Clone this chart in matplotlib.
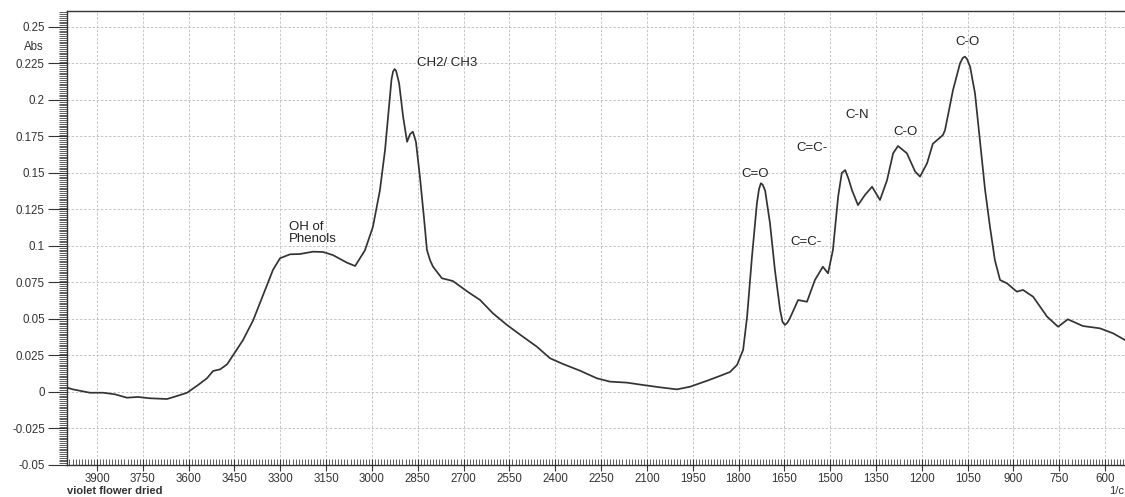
# -*- coding: utf-8 -*-
"""
FTIR spectrum of dried violet flower (absorbance vs wavenumber)
"""
import matplotlib
matplotlib.use('Agg')
import matplotlib.pyplot as plt
from matplotlib.ticker import MultipleLocator, FixedLocator

plt.rcParams['font.family'] = ['Liberation Sans', 'DejaVu Sans']

# ============================================================
# data
# ============================================================
WAVENUMBER = [
    3998, 3979, 3923, 3880, 3841, 3802, 3766, 3727, 3671, 3645,
    3605, 3569, 3540, 3520, 3497, 3474, 3455, 3422, 3389, 3357,
    3324, 3301, 3268, 3236, 3193, 3160, 3128, 3082, 3055, 3023,
    2997, 2974, 2957, 2941, 2936, 2931, 2926, 2921, 2911, 2898,
    2885, 2875, 2866, 2856, 2843, 2830, 2820, 2810, 2800, 2771,
    2735, 2689, 2646, 2604, 2558, 2506, 2460, 2417, 2375, 2319,
    2264, 2221, 2165, 2113, 2057, 2002, 1959, 1903, 1861, 1828,
    1805, 1785, 1772, 1756, 1740, 1733, 1727, 1721, 1713, 1697,
    1681, 1664, 1656, 1648, 1640, 1632, 1605, 1576, 1550, 1524,
    1507, 1491, 1474, 1462, 1451, 1440, 1429, 1409, 1386, 1363,
    1337, 1314, 1294, 1278, 1249, 1222, 1206, 1183, 1164, 1131,
    1124, 1098, 1075, 1066, 1059, 1052, 1042, 1026, 1010, 993,
    977, 961, 944, 921, 889, 869, 836, 790, 754, 722,
    673, 617, 574, 535,
]
ABSORBANCE = [
    0.0030, 0.0018, -0.0005, -0.0005, -0.0016, -0.0039, -0.0034, -0.0043, -0.0048, -0.0032,
    -0.0005, 0.0048, 0.0094, 0.0144, 0.0155, 0.0190, 0.0250, 0.0356, 0.0490, 0.0660,
    0.0836, 0.0916, 0.0943, 0.0945, 0.0961, 0.0959, 0.0938, 0.0886, 0.0863, 0.0970,
    0.1130, 0.1380, 0.1660, 0.2023, 0.2140, 0.2194, 0.2212, 0.2200, 0.2114, 0.1886,
    0.1714, 0.1767, 0.1783, 0.1714, 0.1475, 0.1200, 0.0973, 0.0904, 0.0858, 0.0779,
    0.0760, 0.0690, 0.0630, 0.0539, 0.0459, 0.0379, 0.0310, 0.0231, 0.0192, 0.0146,
    0.0094, 0.0071, 0.0064, 0.0048, 0.0032, 0.0018, 0.0036, 0.0077, 0.0110, 0.0137,
    0.0185, 0.0288, 0.0516, 0.0927, 0.1290, 0.1390, 0.1430, 0.1420, 0.1380, 0.1155,
    0.0836, 0.0562, 0.0480, 0.0459, 0.0475, 0.0505, 0.0630, 0.0618, 0.0767, 0.0858,
    0.0813, 0.0973, 0.1338, 0.1500, 0.1520, 0.1460, 0.1384, 0.1280, 0.1350, 0.1406,
    0.1315, 0.1450, 0.1635, 0.1685, 0.1635, 0.1510, 0.1475, 0.1566, 0.1700, 0.1760,
    0.1795, 0.2068, 0.2251, 0.2288, 0.2297, 0.2280, 0.2228, 0.2046, 0.1726, 0.1384,
    0.1132, 0.0904, 0.0767, 0.0744, 0.0687, 0.0699, 0.0653, 0.0516, 0.0447, 0.0498,
    0.0452, 0.0436, 0.0402, 0.0356,
]

# peak annotations: text, wavenumber, absorbance, horizontal alignment
PEAK_LABELS = ["OH of\nPhenols", "CH2/ CH3", "C=O", "C=C-", "C=C-", "C-N", "C-O", "C-O"]
PEAK_WN = [3271, 2853, 1746, 1560, 1579, 1412, 1252, 1049]
PEAK_ABS = [0.109, 0.2253, 0.149, 0.167, 0.1027, 0.190, 0.178, 0.240]
PEAK_HA = ['left', 'left', 'center', 'center', 'center', 'center', 'center', 'center']

X_TICKS = [3900, 3750, 3600, 3450, 3300, 3150, 3000, 2850, 2700, 2550, 2400,
           2250, 2100, 1950, 1800, 1650, 1500, 1350, 1200, 1050, 900, 750, 600]
Y_TICKS = [-0.05, -0.025, 0, 0.025, 0.05, 0.075, 0.1, 0.125, 0.15, 0.175,
           0.2, 0.225, 0.25]
Y_TICK_LABELS = ['-0.05', '-0.025', '0', '0.025', '0.05', '0.075', '0.1',
                 '0.125', '0.15', '0.175', '0.2', '0.225', '0.25']

SAMPLE_NAME = "violet flower dried"


def main():
    fig = plt.figure(figsize=(11.25, 4.97), dpi=100)
    ax = fig.add_axes([0.0596, 0.0644, 0.9404, 0.9136])

    ax.plot(WAVENUMBER, ABSORBANCE, color='#333333', lw=1.25)

    ax.set_xlim(3998, 535)
    ax.set_ylim(-0.05, 0.261)

    # ticks
    ax.xaxis.set_major_locator(FixedLocator(X_TICKS))
    ax.xaxis.set_minor_locator(MultipleLocator(10))
    ax.set_yticks(Y_TICKS)
    ax.set_yticklabels(Y_TICK_LABELS)
    ax.yaxis.set_minor_locator(MultipleLocator(0.00125))

    ax.tick_params(axis='x', which='major', direction='inout', length=8,
                   width=0.8, labelsize=8.3, pad=1.5, colors='#333333')
    ax.tick_params(axis='x', which='minor', direction='in', length=4, width=0.6,
                   colors='#444444')
    ax.tick_params(axis='y', which='major', direction='out', length=14,
                   width=0.8, labelsize=8.3, pad=2, colors='#333333')
    ax.tick_params(axis='y', which='minor', direction='out', length=6, width=0.6,
                   colors='#444444')

    ax.grid(True, which='major', color='#bdbdbd', ls=(0, (3, 2)), lw=0.6)

    for side in ['top', 'left', 'bottom']:
        ax.spines[side].set_color('#333333')
        ax.spines[side].set_linewidth(1.0)
    ax.spines['right'].set_visible(False)

    # peak assignments
    for txt, wn, a, ha in zip(PEAK_LABELS, PEAK_WN, PEAK_ABS, PEAK_HA):
        ax.text(wn, a, txt, ha=ha, va='center', fontsize=9.5, color='#222222',
                linespacing=1.05)

    fig.text(0.030, 0.906, "Abs", ha='center', va='center', fontsize=8.3,
             color='#333333')
    fig.text(0.0596, 0.002, SAMPLE_NAME, ha='left', va='bottom', fontsize=8,
             fontweight='bold', color='#333333')
    fig.text(0.986, 0.002, "1/c", ha='left', va='bottom', fontsize=8,
             color='#333333')

    fig.savefig('out.png', dpi=100)
    plt.close(fig)


if __name__ == "__main__":
    main()
